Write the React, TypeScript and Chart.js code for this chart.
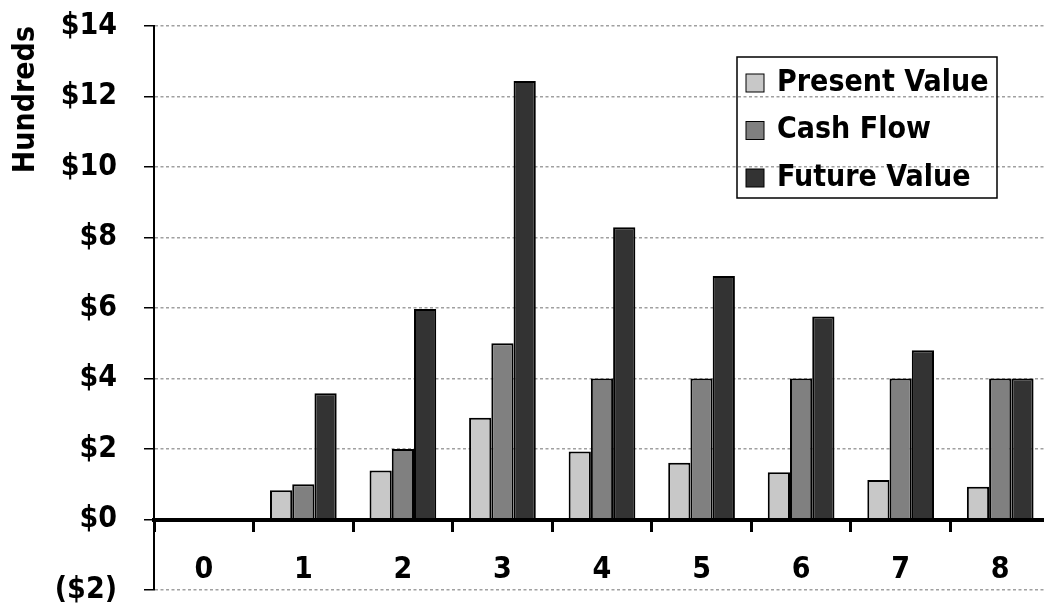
import { useEffect, useRef } from "react";
import { Chart, registerables } from "chart.js";

Chart.register(...registerables);

// Periods and the three value series (in hundreds of dollars)
const periods = ["0", "1", "2", "3", "4", "5", "6", "7", "8"];
const presentValue = [0, 0.83, 1.39, 2.89, 1.93, 1.61, 1.34, 1.12, 0.93];
const cashFlow = [0, 1, 2, 5, 4, 4, 4, 4, 4];
const futureValue = [0, 3.58, 5.97, 12.44, 8.29, 6.91, 5.76, 4.8, 4.0];

const seriesNames = ["Present Value", "Cash Flow", "Future Value"];
const seriesColors = ["#c8c8c8", "#808080", "#333333"];

const yMin = -2;
const yMax = 14;
const yStep = 2;
const yTitle = "Hundreds";

const FONT_FAMILY = "'DejaVu Sans Condensed', 'DejaVu Sans', sans-serif";
const FONT_SIZE = 30;

const formatDollars = (v: number) => (v < 0 ? `($${-v})` : `$${v}`);

// Framed legend drawn inside the plot area
const boxLegend = {
  id: "boxLegend",
  afterDraw(chart: any, _args: any, opts: any) {
    const ctx = chart.ctx as CanvasRenderingContext2D;
    ctx.save();
    ctx.strokeStyle = "#000";
    ctx.lineWidth = 1.5;
    ctx.strokeRect(opts.x, opts.y, opts.width, opts.height);
    ctx.font = `bold ${opts.fontSize}px ${opts.fontFamily}`;
    ctx.textBaseline = "middle";
    ctx.textAlign = "left";
    chart.data.datasets.forEach((ds: any, i: number) => {
      const cy = opts.y + opts.firstRow + i * opts.rowGap;
      const sx = opts.x + opts.swatchInset;
      ctx.fillStyle = ds.backgroundColor;
      ctx.fillRect(sx, cy - opts.swatch / 2, opts.swatch, opts.swatch);
      ctx.lineWidth = 1;
      ctx.strokeStyle = "#000";
      ctx.strokeRect(sx, cy - opts.swatch / 2, opts.swatch, opts.swatch);
      ctx.fillStyle = "#000";
      ctx.fillText(ds.label, opts.x + opts.textInset, cy);
    });
    ctx.restore();
  },
};

export default function App() {
  const canvasRef = useRef<HTMLCanvasElement | null>(null);

  useEffect(() => {
    if (!canvasRef.current) return;
    const seriesData = [presentValue, cashFlow, futureValue];
    const chart = new Chart(canvasRef.current, {
      type: "bar",
      data: {
        labels: periods,
        datasets: seriesNames.map((name, i) => ({
          label: name,
          data: seriesData[i],
          backgroundColor: seriesColors[i],
          borderColor: "#000",
          borderWidth: 2,
          categoryPercentage: 0.67,
          barPercentage: 1,
        })),
      },
      options: {
        responsive: false,
        animation: false,
        layout: { padding: { top: 26, bottom: 21, left: 0, right: 0 } },
        plugins: {
          legend: { display: false },
          tooltip: { enabled: false },
          boxLegend: {
            x: 737,
            y: 57,
            width: 260,
            height: 141,
            firstRow: 26,
            rowGap: 47.5,
            swatch: 18,
            swatchInset: 9,
            textInset: 40,
            fontSize: FONT_SIZE,
            fontFamily: FONT_FAMILY,
          },
        } as any,
        scales: {
          x: {
            position: { y: 0 } as any,
            grid: {
              display: true,
              drawOnChartArea: false,
              drawTicks: true,
              offset: true,
              tickLength: 10,
              tickWidth: 3,
              tickColor: "#000",
            },
            border: { display: true, color: "#000", width: 4, z: 1 },
            ticks: {
              color: "#000",
              padding: 23,
              font: { family: FONT_FAMILY, size: FONT_SIZE, weight: "bold" },
            },
          },
          y: {
            min: yMin,
            max: yMax,
            grid: {
              color: "#a0a0a0",
              lineWidth: 1.5,
              tickLength: 10,
              tickWidth: 1.5,
              tickColor: "#000",
              tickBorderDash: [],
            } as any,
            border: { display: true, color: "#000", width: 2, dash: [3, 2.5] },
            ticks: {
              stepSize: yStep,
              color: "#000",
              padding: 27,
              callback: (v: any) => formatDollars(Number(v)),
              font: { family: FONT_FAMILY, size: FONT_SIZE, weight: "bold" },
            },
            title: {
              display: true,
              text: yTitle,
              align: "end",
              color: "#000",
              padding: { top: 8, bottom: 0 },
              font: { family: FONT_FAMILY, size: FONT_SIZE, weight: "bold" },
            },
            afterFit: (scale: any) => {
              scale.width = 154;
              scale.paddingTop = 0;
              scale.paddingBottom = 0;
            },
          },
        },
      },
      plugins: [boxLegend],
    });
    return () => chart.destroy();
  }, []);

  return (
    <div
      style={{
        position: "fixed",
        left: 0,
        top: 0,
        width: 1044,
        height: 611,
        overflow: "hidden",
        background: "#fff",
      }}
    >
      <canvas ref={canvasRef} width={1050} height={611} style={{ display: "block" }} />
    </div>
  );
}
